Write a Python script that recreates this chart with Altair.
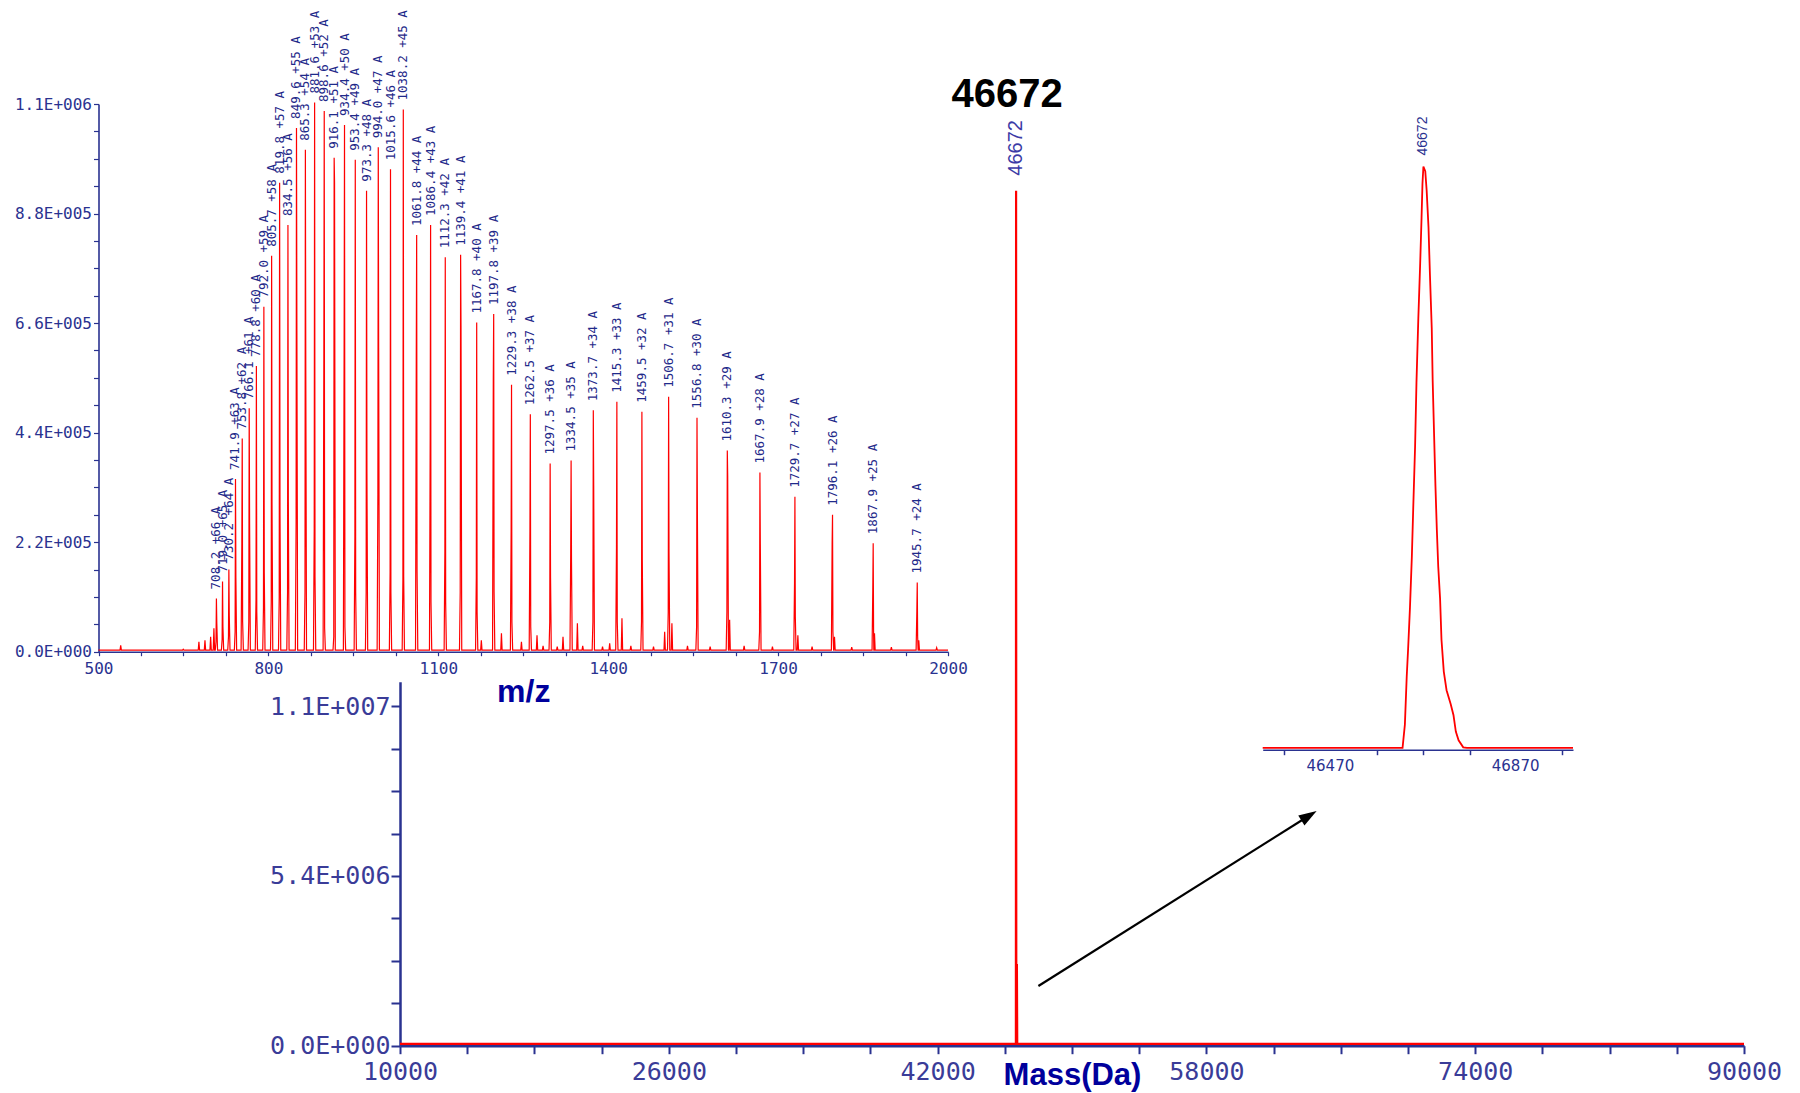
import altair as alt
import pandas as pd

W, H = 1800, 1093

# ---------------- ESI m/z spectrum (upper-left inset) ----------------
MZ_PEAKS = [708.2, 719.0, 730.2, 741.9, 753.8, 766.1, 778.8, 792.0, 805.7, 819.8,
            834.5, 849.6, 865.3, 881.6, 898.6, 916.1, 934.4, 953.4, 973.3, 994.0,
            1015.6, 1038.2, 1061.8, 1086.4, 1112.3, 1139.4, 1167.8, 1197.8, 1229.3, 1262.5,
            1297.5, 1334.5, 1373.7, 1415.3, 1459.5, 1506.7, 1556.8, 1610.3, 1667.9, 1729.7,
            1796.1, 1867.9, 1945.7]
CHARGES = [66, 65, 64, 63, 62, 61, 60, 59, 58, 57,
           56, 55, 54, 53, 52, 51, 50, 49, 48, 47,
           46, 45, 44, 43, 42, 41, 40, 39, 38, 37,
           36, 35, 34, 33, 32, 31, 30, 29, 28, 27,
           26, 25, 24]
PEAK_TOP = [107000, 141000, 165000, 347000, 428000, 489000, 574000, 693000, 795000, 942000,
            857000, 1052000, 1008000, 1103000, 1086000, 992000, 1058000, 988000, 926000, 1013000,
            969000, 1089000, 837000, 857000, 792000, 797000, 661000, 678000, 536000, 477000,
            378000, 384000, 485000, 502000, 482000, 512000, 470000, 404000, 360000, 311000,
            275000, 218000, 139000]
SHOULDER_LEFT = [20000, 25000, 30000, 40000, 218000, 60000, 104000, 90000, 100000, 110000,
                 120000, 258000, 120000, 248000, 588000, 30000, 612000, 231000, 120000, 315000,
                 159000, 144000, 588000, 428000, 200000, 120000, 150000, 544000, 242000, 241000,
                 60000, 198000, 60000, 208000, 60000, 80000, 50000, 80000, 40000, 137000,
                 216000, 124000, 82000]
SHOULDER_RIGHT = [57000, 50000, 73000, 148000, 60000, 258000, 80000, 160000, 294000, 274000,
                  301000, 644000, 576000, 150000, 47000, 943000, 50000, 120000, 358000, 610000,
                  120000, 150000, 161000, 100000, 100000, 654000, 80000, 120000, 60000, 50000,
                  149000, 180000, 333000, 60000, 184000, 198000, 273000, 353000, 216000, 70000,
                  40000, 40000, 30000]
MINOR_MZ = [539.2, 649.6, 677.3, 688.0, 698.0, 703.8, 1176.0, 1211.5, 1246.8, 1274.3,
            1285.0, 1310.0, 1320.2, 1345.6, 1355.0, 1390.0, 1402.6, 1424.3, 1440.0, 1480.0,
            1499.7, 1512.5, 1540.0, 1580.0, 1614.4, 1640.0, 1690.0, 1734.9, 1760.0, 1799.6,
            1830.0, 1870.2, 1900.0, 1948.4, 1980.0]
MINOR_INT = [13000, 5000, 20000, 23000, 30000, 47000, 23000, 37000, 20000, 33000,
             12000, 10000, 30000, 57000, 12000, 10000, 17000, 67000, 12000, 10000,
             40000, 57000, 12000, 10000, 64000, 12000, 10000, 33000, 10000, 30000,
             9000, 37000, 9000, 23000, 8000]
MZ_BASE = 3000
MZ_START, MZ_END = 500, 2000

MZ_X_TICKS = list(range(500, 2001, 75))
MZ_Y_TICKS = [i * 55000 for i in range(21)]

# ---------------- deconvoluted mass spectrum (main) ----------------
MASS = [10000, 46660, 46672, 46684, 46720, 46740, 90000]
MASS_INT = [60000, 60000, 27200000, 2400000, 2600000, 60000, 60000]
MASS_X_TICKS = list(range(10000, 90001, 4000))
MASS_Y_TICKS = [i * 1350000 for i in range(9)]
PEAK_MASS = 46672
PEAK_INT = 27200000

# ---------------- zoomed peak (right inset) ----------------
ZOOM_MASS = [46325, 46627, 46632, 46636, 46639, 46643, 46647, 46650, 46654, 46657,
             46661, 46665, 46668, 46670, 46672, 46676, 46679, 46683, 46686, 46690,
             46692, 46695, 46698, 46701, 46704, 46708, 46711, 46716, 46722, 46731,
             46737, 46742, 46748, 46758, 46766, 46995]
ZOOM_REL = [0.3, 0.3, 4.3, 12.6, 17.3, 24.4, 33.0, 41.3, 51.9, 62.9,
            73.9, 83.3, 91.2, 97.1, 100, 99.2, 95.9, 89.6, 81.7, 72.3,
            63.3, 54.2, 45.2, 37.7, 31.4, 25.9, 18.9, 13.4, 10.2, 7.8,
            5.9, 3.1, 1.6, 0.4, 0.3, 0.3]
ZOOM_TICKS = [46372, 46572, 46672, 46772, 46972]
ZOOM_LABELS = [46470, 46870]

# arrow (in main-panel data units)
ARROW_FROM = (48000, 1900000)
ARROW_TO = (64107, 7315000)

# ---------------- tables ----------------
rows = [(MZ_START, MZ_BASE), (MZ_END, MZ_BASE)]
for mz, top, l, r in zip(MZ_PEAKS, PEAK_TOP, SHOULDER_LEFT, SHOULDER_RIGHT):
    rows += [(mz - 2.0, MZ_BASE), (mz - 0.7, l), (mz, top), (mz + 0.7, r), (mz + 2.0, MZ_BASE)]
for mz, h in zip(MINOR_MZ, MINOR_INT):
    rows += [(mz - 1.2, MZ_BASE), (mz, h), (mz + 1.2, MZ_BASE)]
mz_df = pd.DataFrame(sorted(rows), columns=["mz", "intensity"])
lab_df = pd.DataFrame({
    "mz": MZ_PEAKS, "intensity": PEAK_TOP,
    "label": [f"{m:.1f} +{z} A" for m, z in zip(MZ_PEAKS, CHARGES)],
})
mass_df = pd.DataFrame({"mass": MASS, "intensity": MASS_INT})
peak_df = pd.DataFrame({"mass": [PEAK_MASS], "intensity": [PEAK_INT], "label": [str(PEAK_MASS)]})
zoom_df = pd.DataFrame({"mass": ZOOM_MASS, "rel": ZOOM_REL})
zoom_lab_df = pd.DataFrame({"mass": [PEAK_MASS], "rel": [100], "label": [str(PEAK_MASS)]})
arrow_df = pd.DataFrame({"x": [ARROW_FROM[0]], "y": [ARROW_FROM[1]],
                         "x2": [ARROW_TO[0]], "y2": [ARROW_TO[1]]})


def sc(domain, rng):
    return alt.Scale(domain=domain, range=rng, nice=False, zero=False)


# pixel placement of the three panels
MZ_XR, MZ_YR = [98.5, 948], [651.7, 104]
MS_XR, MS_YR = [400, 1744], [1045.7, 681.7]
ZM_XR, ZM_YR = [1262.7, 1573], [749.7, 166.5]
MZ_XS = sc([MZ_START, MZ_END], MZ_XR)
MZ_YS = sc([0, 1100000], MZ_YR)
MS_XS = sc([10000, 90000], MS_XR)
MS_YS = sc([0, 11580000], MS_YR)
ZM_XS = sc([46325, 46995], ZM_XR)
ZM_YS = sc([0, 100], ZM_YR)

NAVY = "#2a3290"
NAVY2 = "#3a3c98"
SCI = "replace(format(datum.value, '.1e'), 'e+', 'E+00')"

# ---- upper-left m/z spectrum ----
mz_line = alt.Chart(mz_df).mark_line(color="#ff0000", strokeWidth=1.2).encode(
    x=alt.X("mz:Q", scale=MZ_XS, axis=alt.Axis(
        orient="bottom", offset=MZ_YR[0] - H, values=MZ_X_TICKS, format="d",
        labelExpr="(datum.value - 500) % 300 == 0 ? datum.label : ''",
        grid=False, tickSize=4, tickWidth=1.2, domainWidth=1.6,
        domainColor=NAVY, tickColor=NAVY, labelColor=NAVY,
        labelFont="DejaVu Sans Mono", labelFontSize=16, labelPadding=5,
        labelFlush=False, labelOverlap=False,
        title="m/z", titleFont="Liberation Sans", titleFontSize=32,
        titleFontWeight="bold", titleColor="#00009c",
        titleY=50, titleBaseline="alphabetic")),
    y=alt.Y("intensity:Q", scale=MZ_YS, axis=alt.Axis(
        orient="left", offset=-MZ_XR[0], values=MZ_Y_TICKS,
        labelExpr=f"datum.value % 220000 == 0 ? {SCI} : ''",
        grid=False, tickSize=5, tickWidth=1.2, domainWidth=1.6,
        domainColor=NAVY, tickColor=NAVY, labelColor=NAVY,
        labelFont="DejaVu Sans Mono", labelFontSize=16, labelPadding=2,
        labelFlush=False, labelOverlap=False, title=None)),
)
mz_labels = alt.Chart(lab_df).mark_text(
    angle=270, align="left", baseline="middle", dx=9,
    font="DejaVu Sans Mono", fontSize=12.5, color="#1f2a8a",
).encode(
    x=alt.X("mz:Q", scale=MZ_XS, axis=None),
    y=alt.Y("intensity:Q", scale=MZ_YS, axis=None),
    text="label:N",
)

# ---- main deconvoluted spectrum ----
ms_line = alt.Chart(mass_df).mark_line(color="#ff0000", strokeWidth=2.2).encode(
    x=alt.X("mass:Q", scale=MS_XS, axis=alt.Axis(
        orient="bottom", offset=MS_YR[0] - H, values=MASS_X_TICKS, format="d",
        labelExpr="(datum.value - 10000) % 16000 == 0 ? datum.label : ''",
        grid=False, tickSize=8, tickWidth=2, domainWidth=2.5,
        domainColor=NAVY, tickColor=NAVY, labelColor=NAVY2,
        labelFont="DejaVu Sans Mono", labelFontSize=25, labelPadding=6,
        labelFlush=False, labelOverlap=False,
        title="Mass(Da)", titleFont="Liberation Sans", titleFontSize=31,
        titleFontWeight="bold", titleColor="#00009c",
        titleY=39, titleBaseline="alphabetic")),
    y=alt.Y("intensity:Q", scale=MS_YS, axis=alt.Axis(
        orient="left", offset=-MS_XR[0], values=MASS_Y_TICKS,
        labelExpr=f"datum.value % 5400000 == 0 ? {SCI} : ''",
        grid=False, tickSize=9, tickWidth=2, domainWidth=2.5,
        domainColor=NAVY, tickColor=NAVY, labelColor=NAVY2,
        labelFont="DejaVu Sans Mono", labelFontSize=25, labelPadding=1,
        labelFlush=False, labelOverlap=False, title=None)),
)
ms_peak_label = alt.Chart(peak_df).mark_text(
    angle=270, align="left", baseline="middle", dx=15,
    font="Liberation Sans", fontSize=20, color="#3b3ba6",
).encode(
    x=alt.X("mass:Q", scale=MS_XS, axis=None),
    y=alt.Y("intensity:Q", scale=MS_YS, axis=None),
    text="label:N",
)
ms_big_label = alt.Chart(peak_df).mark_text(
    align="center", baseline="alphabetic", dx=-9, dy=-84,
    font="Liberation Sans", fontSize=40, fontWeight="bold", color="#000000",
).encode(
    x=alt.X("mass:Q", scale=MS_XS, axis=None),
    y=alt.Y("intensity:Q", scale=MS_YS, axis=None),
    text="label:N",
)
arrow_line = alt.Chart(arrow_df).mark_rule(color="#000000", strokeWidth=2.2).encode(
    x=alt.X("x:Q", scale=MS_XS, axis=None),
    y=alt.Y("y:Q", scale=MS_YS, axis=None),
    x2="x2:Q", y2="y2:Q",
)
arrow_head = alt.Chart(arrow_df).mark_point(
    shape="M0,-1L0.65,1L-0.65,1Z", size=324, angle=58,
    filled=True, color="#000000", opacity=1,
).encode(
    x=alt.X("x2:Q", scale=MS_XS, axis=None),
    y=alt.Y("y2:Q", scale=MS_YS, axis=None),
)

# ---- right zoomed peak ----
zm_line = alt.Chart(zoom_df).mark_line(color="#ff0000", strokeWidth=1.8).encode(
    x=alt.X("mass:Q", scale=ZM_XS, axis=alt.Axis(
        orient="bottom", offset=ZM_YR[0] - H, values=ZOOM_TICKS, labels=False,
        grid=False, tickSize=5, tickWidth=1.5, domainWidth=1.5,
        domainColor=NAVY, tickColor=NAVY, title=None)),
    y=alt.Y("rel:Q", scale=ZM_YS, axis=None),
)
zm_label = alt.Chart(zoom_lab_df).mark_text(
    angle=270, align="left", baseline="middle", dx=11,
    font="Liberation Sans", fontSize=14, color="#2a3290",
).encode(
    x=alt.X("mass:Q", scale=ZM_XS, axis=alt.Axis(
        orient="bottom", offset=ZM_YR[0] - H, values=ZOOM_LABELS, format="d",
        ticks=False, domain=False, grid=False, labelColor=NAVY,
        labelFont="DejaVu Sans", labelFontSize=15, labelPadding=9,
        labelFlush=False, labelOverlap=False, title=None)),
    y=alt.Y("rel:Q", scale=ZM_YS, axis=None),
    text="label:N",
)

chart = alt.layer(
    ms_line, mz_line, mz_labels, ms_peak_label, ms_big_label,
    arrow_line, arrow_head, zm_line, zm_label,
).resolve_scale(x="independent", y="independent").resolve_axis(
    x="independent", y="independent"
).properties(
    width=W, height=H, padding=0,
    autosize=alt.AutoSizeParams(type="none"),
    background="white",
).configure_view(strokeWidth=0)

chart.save("out.html", embed_options={"renderer": "svg", "actions": False})
